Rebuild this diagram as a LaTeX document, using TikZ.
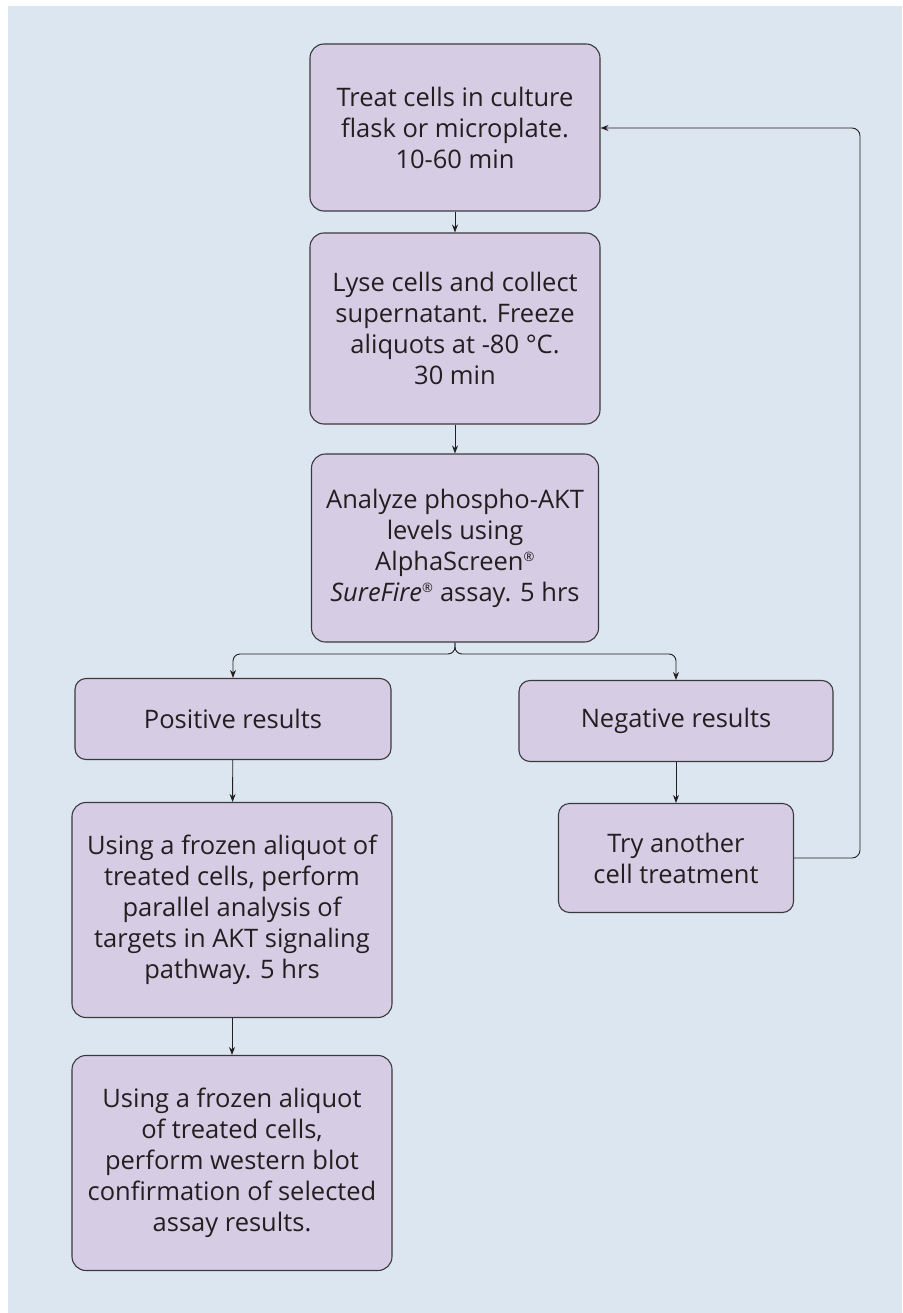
\documentclass[tikz,border=0pt]{standalone}
\usepackage{fontspec}
\setmainfont{Open Sans}
\usetikzlibrary{arrows.meta}
\definecolor{bgblue}{HTML}{DCE6F1}
\definecolor{boxfill}{HTML}{D6CDE4}
\definecolor{edge}{HTML}{3A3A3C}
\definecolor{ink}{HTML}{231F20}
\newcommand{\regmark}{\textsuperscript{\fontsize{13}{13}\selectfont ®}}
\tikzset{
  flowbox/.style={draw=edge, line width=1.1pt, fill=boxfill, rounded corners=14pt,
    align=center, text=ink, inner sep=0pt, font=\fontsize{25.5}{31}\selectfont},
  smallbox/.style={flowbox, rounded corners=11pt},
  conn/.style={draw=ink, line width=0.9pt, -{Stealth[length=8pt,width=6pt]}},
}
\begin{document}
\begin{tikzpicture}[x=1pt,y=-1pt]
\useasboundingbox (0,0) rectangle (902,1313);
\fill[bgblue] (8,6) rectangle (902,1313);

\node[flowbox, minimum width=290pt, minimum height=167pt] (b1) at (455,127.5)
  {Treat cells in culture\\flask or microplate.\\10-60 min};
\node[flowbox, minimum width=290pt, minimum height=191pt] (b2) at (455,328.5)
  {Lyse cells and collect\\supernatant. Freeze\\aliquots at -80 °C.\\30 min};
\node[flowbox, minimum width=287pt, minimum height=188pt] (b3) at (455,548)
  {Analyze phospho-AKT\\levels using\\AlphaScreen\regmark\\\textit{SureFire}\regmark{} assay. 5 hrs};
\node[smallbox, minimum width=316pt, minimum height=81pt] (pos) at (233,719)
  {Positive results};
\node[smallbox, minimum width=314pt, minimum height=81pt] (neg) at (676,721)
  {Negative results};
\node[flowbox, minimum width=320pt, minimum height=215pt] (b4) at (232,910)
  {Using a frozen aliquot of\\treated cells, perform\\parallel analysis of\\targets in AKT signaling\\pathway. 5 hrs};
\node[flowbox, minimum width=320pt, minimum height=215pt] (b5) at (232,1163)
  {Using a frozen aliquot\\of treated cells,\\perform western blot\\confirmation of selected\\assay results.};
\node[smallbox, minimum width=235pt, minimum height=109pt] (try) at (676,858)
  {Try another\\cell treatment};

\coordinate (split) at (455,654);
\coordinate (fbr) at (860,858);

\draw[conn] (b1) -- (b2);
\draw[conn] (b2) -- (b3);
\draw[conn, rounded corners=7pt] (b3.south) -- (split) -| (pos.north);
\draw[conn, rounded corners=7pt] (b3.south) -- (split) -| (neg.north);
\draw[conn] (pos) -- (b4);
\draw[conn] (b4) -- (b5);
\draw[conn] (neg) -- (try);
\draw[conn, rounded corners=8pt] (try.east) -- (fbr) |- (b1.east |- 0,128);
\end{tikzpicture}
\end{document}
